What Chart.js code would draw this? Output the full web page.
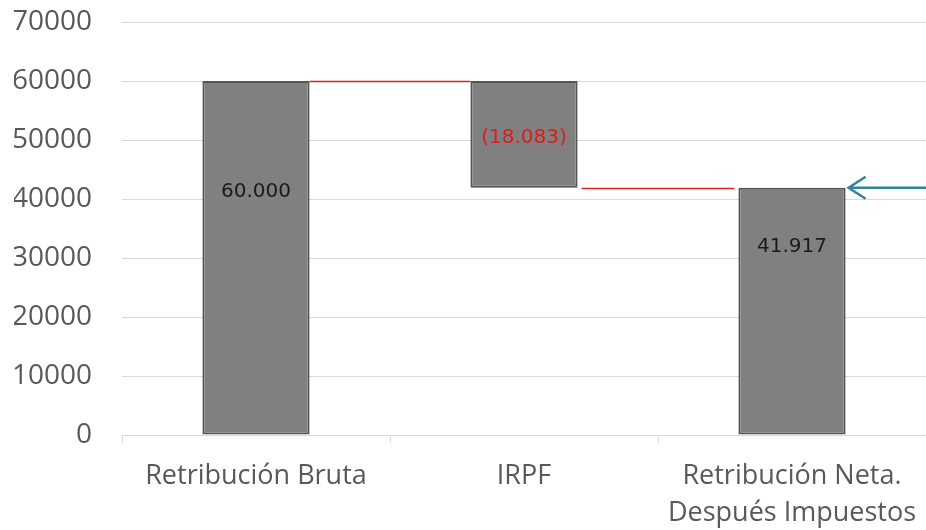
<!DOCTYPE html>
<html>
<head>
<meta charset="utf-8">
<script src="https://cdn.jsdelivr.net/npm/chart.js@4/dist/chart.umd.min.js"></script>
<style>
  html, body { margin: 0; padding: 0; background: #fff; }
  #wrap { width: 926px; height: 530px; }
</style>
</head>
<body>
<div id="wrap"><canvas id="waterfallChart" width="926" height="530"></canvas></div>
<script>
// datos del gráfico
const categories = ['Retribución Bruta', 'IRPF', ['Retribución Neta.', 'Después Impuestos']];
const barStart = [0, 41917, 0];
const barEnd = [60000, 60000, 41917];
const amounts = [60000, -18083, 41917];
const labelAt = [41200, 50300, 31900];   // altura (valor) donde va cada etiqueta
const yTicks = [0, 10000, 20000, 30000, 40000, 50000, 60000, 70000];

function fmt(v) {
    const s = String(Math.abs(v)).replace(/\B(?=(\d{3})+(?!\d))/g, '.');
    return v < 0 ? '(' + s + ')' : s;
}

// conectores rojos, etiquetas y flecha azul
const waterfallExtras = {
    id: 'waterfallExtras',
    afterDatasetsDraw(chart) {
        const ctx = chart.ctx;
        const y = chart.scales.y;
        const bars = chart.getDatasetMeta(0).data;
        ctx.save();

        // conectores: del final de una barra al inicio de la siguiente
        ctx.strokeStyle = '#E0201C';
        ctx.lineWidth = 1.5;
        for (let i = 0; i < bars.length - 1; i++) {
            const level = amounts[i + 1] < 0 ? barEnd[i] : barEnd[i + 1];
            const yy = Math.round(y.getPixelForValue(level)) + 0.5;
            const x1 = bars[i].x + bars[i].width / 2 + (i === 0 ? 0 : 4);
            const x2 = bars[i + 1].x - bars[i + 1].width / 2 - (i === 0 ? 0 : 4);
            ctx.beginPath();
            ctx.moveTo(x1, yy);
            ctx.lineTo(x2, yy);
            ctx.stroke();
        }

        // etiquetas de datos
        ctx.font = '20px "DejaVu Sans"';
        ctx.textAlign = 'center';
        ctx.textBaseline = 'middle';
        bars.forEach((b, i) => {
            ctx.fillStyle = amounts[i] < 0 ? '#D91E1E' : '#1a1a1a';
            ctx.fillText(fmt(amounts[i]), b.x, y.getPixelForValue(labelAt[i]));
        });

        // flecha azul al resultado neto
        const last = bars[bars.length - 1];
        const ay = y.getPixelForValue(barEnd[bars.length - 1]);
        const tip = last.x + last.width / 2 + 3;
        ctx.strokeStyle = '#31849B';
        ctx.lineWidth = 2.5;
        ctx.beginPath();
        ctx.moveTo(chart.width, ay);
        ctx.lineTo(tip, ay);
        ctx.moveTo(tip + 17, ay - 11);
        ctx.lineTo(tip, ay);
        ctx.lineTo(tip + 17, ay + 11);
        ctx.stroke();
        ctx.restore();
    }
};

const ctx = document.getElementById('waterfallChart').getContext('2d');
new Chart(ctx, {
    type: 'bar',
    data: {
        labels: categories,
        datasets: [{
            data: barStart.map((s, i) => [s, barEnd[i]]),
            backgroundColor: '#808080',
            borderColor: '#555555',
            borderWidth: 2,
            borderSkipped: false,
            categoryPercentage: 1,
            barPercentage: 0.4
        }]
    },
    options: {
        responsive: false,
        animation: false,
        layout: { padding: { left: 14, right: 0, top: 0, bottom: 0 } },
        plugins: {
            legend: { display: false },
            tooltip: { enabled: false }
        },
        scales: {
            y: {
                min: 0,
                max: 70000,
                afterBuildTicks: (axis) => { axis.ticks = yTicks.map(v => ({ value: v })); },
                afterFit: (axis) => { axis.width = 108; axis.paddingTop = 22; axis.paddingBottom = 0; },
                grid: {
                    color: '#D9D9D9',
                    drawTicks: false
                },
                border: { display: false },
                ticks: {
                    color: '#595959',
                    padding: 30,
                    font: { family: 'Open Sans', size: 28 },
                    callback: (v) => String(v)
                }
            },
            x: {
                afterFit: (axis) => { axis.height = 95; axis.paddingLeft = 0; axis.paddingRight = 0; },
                grid: {
                    color: '#D9D9D9',
                    drawOnChartArea: false,
                    tickLength: 8
                },
                border: { color: '#D9D9D9' },
                ticks: {
                    color: '#595959',
                    padding: 14,
                    maxRotation: 0,
                    font: { family: 'Open Sans', size: 27, lineHeight: 1.4 }
                }
            }
        }
    },
    plugins: [waterfallExtras]
});
</script>
</body>
</html>
